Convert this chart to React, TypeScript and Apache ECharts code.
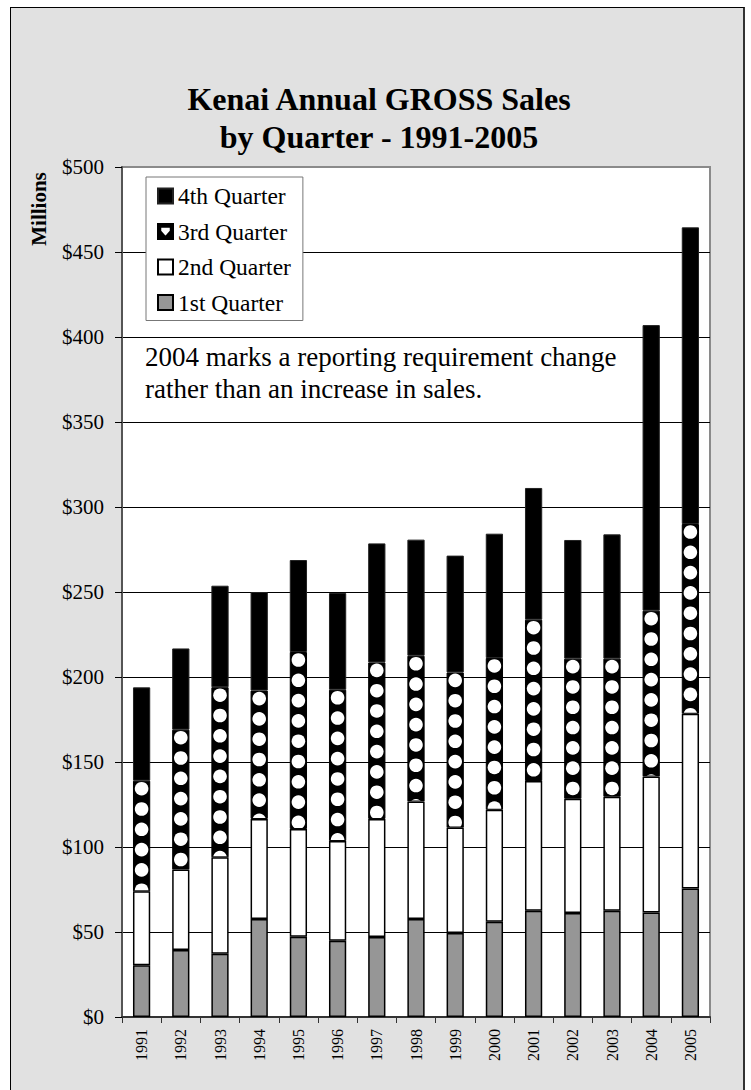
import React, { useEffect, useRef } from "react";
import * as echarts from "echarts";

const years = ["1991", "1992", "1993", "1994", "1995", "1996", "1997", "1998", "1999", "2000", "2001", "2002", "2003", "2004", "2005"];
const q1 = [30.4, 39.4, 37.2, 57.6, 47.2, 44.9, 47.0, 57.6, 49.4, 56.0, 62.5, 61.2, 62.5, 61.5, 75.6];
const q2 = [43.5, 47.4, 56.7, 58.9, 63.4, 58.6, 69.5, 69.2, 62.0, 65.9, 76.3, 67.2, 67.1, 80.0, 102.8];
const q3 = [65.1, 82.2, 100.1, 75.5, 104.1, 89.0, 92.1, 85.7, 91.3, 89.3, 94.9, 82.4, 81.2, 97.5, 111.6];
const q4 = [54.9, 47.8, 59.7, 58.0, 54.1, 56.9, 70.0, 68.3, 68.7, 73.1, 77.5, 69.8, 73.1, 168.0, 174.5];
const seriesNames = ["1st Quarter", "2nd Quarter", "3rd Quarter", "4th Quarter"];
const legendOrder = ["4th Quarter", "3rd Quarter", "2nd Quarter", "1st Quarter"];
const yMin = 0;
const yMax = 500;
const yStep = 50;
const titleText = "Kenai Annual GROSS Sales\nby Quarter - 1991-2005";
const noteText = "2004 marks a reporting requirement change\nrather than an increase in sales.";
const yAxisTitle = "Millions";

const SERIF = "'Liberation Serif', 'Times New Roman', serif";
const BAR_RATIO = 0.44;

export default function App() {
  const ref = useRef<HTMLDivElement>(null);

  useEffect(() => {
    if (!ref.current) return;
    const chart = echarts.init(ref.current, null, { renderer: "svg" });

    const q3Range = years.map((_, i) => [i, q1[i] + q2[i], q1[i] + q2[i] + q3[i]]);

    const barBase = {
      type: "bar",
      stack: "total",
      barWidth: BAR_RATIO * 100 + "%",
    };

    chart.setOption({
      animation: false,
      backgroundColor: "transparent",
      title: {
        text: titleText,
        left: 379,
        top: 80,
        padding: 0,
        textAlign: "center",
        textStyle: {
          fontFamily: SERIF,
          fontSize: 32,
          fontWeight: "bold",
          color: "#000",
          lineHeight: 38,
        },
      },
      legend: {
        orient: "vertical",
        left: 146,
        top: 177,
        padding: [7, 12, 6, 11],
        itemGap: 11.5,
        itemWidth: 15,
        itemHeight: 15,
        backgroundColor: "#fff",
        borderColor: "#777",
        borderWidth: 1,
        borderRadius: 0,
        textStyle: { fontFamily: SERIF, fontSize: 23.5, color: "#000" },
        data: [
          { name: legendOrder[0], icon: "rect" },
          {
            name: legendOrder[1],
            icon: "path://M0,0 L10,0 L10,10 L0,10 Z M1.5,1.8 L1.5,4.8 L5,8.8 L8.5,4.8 L8.5,1.8 Z",
          },
          { name: legendOrder[2], icon: "rect" },
          { name: legendOrder[3], icon: "rect" },
        ],
      },
      grid: {
        left: 122,
        top: 167,
        width: 588,
        height: 850,
        show: true,
        backgroundColor: "#fff",
        borderColor: "#8a8a8a",
        borderWidth: 2,
      },
      xAxis: {
        type: "category",
        data: years,
        boundaryGap: true,
        axisLine: { show: true, lineStyle: { color: "#333", width: 2 } },
        axisTick: { show: true, length: 6, lineStyle: { color: "#333", width: 1 } },
        axisLabel: {
          rotate: 90,
          margin: 12,
          fontFamily: SERIF,
          fontSize: 16,
          color: "#000",
          interval: 0,
        },
      },
      yAxis: {
        type: "value",
        min: yMin,
        max: yMax,
        interval: yStep,
        axisLine: { show: true, lineStyle: { color: "#555", width: 2 } },
        axisTick: { show: true, length: 7, lineStyle: { color: "#000", width: 1 } },
        axisLabel: {
          margin: 18,
          fontFamily: SERIF,
          fontSize: 21,
          color: "#000",
          formatter: (v: number) => "$" + v,
        },
        splitLine: { show: true, showMaxLine: false, lineStyle: { color: "#000", width: 1 } },
      },
      graphic: [
        {
          type: "text",
          left: 145,
          top: 341,
          z: 10,
          style: {
            text: noteText,
            fontFamily: SERIF,
            fontSize: 27,
            lineHeight: 32,
            fill: "#000",
          },
        },
        {
          type: "text",
          x: 39,
          y: 209,
          rotation: Math.PI / 2,
          style: {
            text: yAxisTitle,
            fontFamily: SERIF,
            fontSize: 21,
            fontWeight: "bold",
            fill: "#000",
            align: "center",
            verticalAlign: "middle",
          },
        },
      ],
      series: [
        {
          ...barBase,
          name: seriesNames[0],
          data: q1,
          itemStyle: { color: "#969696", borderColor: "#000", borderWidth: 1.5 },
        },
        {
          ...barBase,
          name: seriesNames[1],
          data: q2,
          itemStyle: { color: "#fff", borderColor: "#000", borderWidth: 1.5 },
        },
        {
          ...barBase,
          name: seriesNames[2],
          data: q3,
          itemStyle: { color: "#000", borderColor: "#000", borderWidth: 1 },
        },
        {
          ...barBase,
          name: seriesNames[3],
          data: q4,
          itemStyle: { color: "#000", borderColor: "#222", borderWidth: 1 },
        },
        {
          type: "custom",
          name: "q3dots",
          z: 5,
          silent: true,
          encode: { x: 0, y: [1, 2] },
          data: q3Range,
          renderItem: (params: any, api: any) => {
            const i = api.value(0);
            const lo = api.coord([i, api.value(1)]);
            const hi = api.coord([i, api.value(2)]);
            const bw = api.size([1, 0])[0] * BAR_RATIO;
            const cx = lo[0];
            const top = hi[1] + 0.5;
            const bottom = lo[1] - 1;
            const r = 6.8;
            const children: any[] = [];
            for (let cy = top + 7.5; cy - r < bottom; cy += 20.3) {
              children.push({
                type: "circle",
                shape: { cx, cy, r },
                style: { fill: "#fff" },
              });
            }
            return {
              type: "group",
              clipPath: {
                type: "rect",
                shape: { x: cx - bw / 2 + 1, y: top, width: bw - 2, height: bottom - top },
              },
              children,
            };
          },
        },
      ],
    });

    return () => chart.dispose();
  }, []);

  return (
    <div style={{ position: "absolute", left: 0, top: 0, width: 751, height: 1090, background: "#fff", overflow: "hidden" }}>
      <div
        style={{
          position: "absolute",
          left: 10,
          top: 7,
          width: 732,
          height: 1100,
          background: "#e1e1e1",
          borderLeft: "1px solid #000",
          borderTop: "1px solid #000",
          borderRight: "2px solid #333",
        }}
      />
      <div ref={ref} style={{ position: "absolute", left: 0, top: 0, width: 751, height: 1090 }} />
    </div>
  );
}
